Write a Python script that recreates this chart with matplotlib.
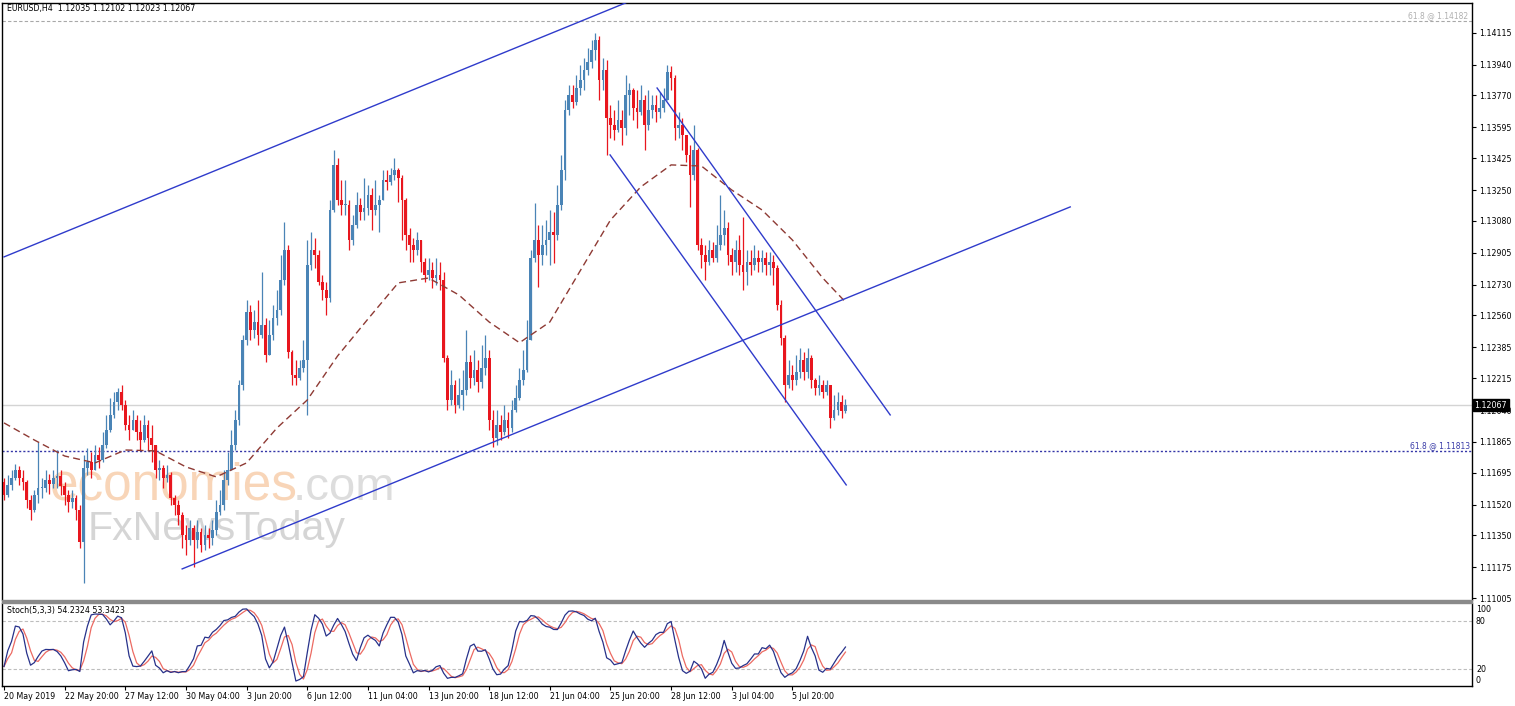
import numpy as np
import pandas as pd
import matplotlib
matplotlib.use("Agg")
import matplotlib.pyplot as plt
import matplotlib.transforms as mtransforms
from matplotlib.patches import Rectangle

# ---------------- data (EURUSD H4) ----------------
symbol_header = "EURUSD,H4  1.12035 1.12102 1.12023 1.12067"
stoch_header = "Stoch(5,3,3) 54.2324 53.3423"

first_open = 1.11644
close = [
    1.11573, 1.11628, 1.11666, 1.11710, 1.11666, 1.11644, 1.11545, 1.11490, 1.11573, 1.11611,
    1.11611, 1.11655, 1.11633, 1.11666, 1.11677, 1.11622, 1.11573, 1.11534, 1.11556, 1.11490,
    1.11314, 1.11721, 1.11754, 1.11710, 1.11793, 1.11765, 1.11848, 1.11930, 1.12013, 1.12084,
    1.12139, 1.12068, 1.11958, 1.11930, 1.11985, 1.11919, 1.11875, 1.11958, 1.11886, 1.11848,
    1.11710, 1.11721, 1.11666, 1.11683, 1.11556, 1.11518, 1.11463, 1.11353, 1.11325, 1.11391,
    1.11325, 1.11369, 1.11298, 1.11353, 1.11336, 1.11380, 1.11479, 1.11518, 1.11655, 1.11710,
    1.11848, 1.11985, 1.12178, 1.12425, 1.12579, 1.12480, 1.12524, 1.12453, 1.12508, 1.12343,
    1.12453, 1.12546, 1.12590, 1.12755, 1.12920, 1.12359, 1.12233, 1.12216, 1.12271, 1.12315,
    1.12838, 1.12920, 1.12893, 1.12744, 1.12700, 1.12656, 1.13140, 1.13388, 1.13195, 1.13168,
    1.13168, 1.12975, 1.13058, 1.13168, 1.13129, 1.13151, 1.13223, 1.13140, 1.13168, 1.13195,
    1.13305, 1.13294, 1.13333, 1.13360, 1.13316, 1.13195, 1.13003, 1.12948, 1.12920, 1.12975,
    1.12854, 1.12783, 1.12810, 1.12766, 1.12783, 1.12755, 1.12326, 1.12095, 1.12178, 1.12068,
    1.12123, 1.12150, 1.12304, 1.12216, 1.12260, 1.12194, 1.12271, 1.12326, 1.11985, 1.11886,
    1.11958, 1.11919, 1.11985, 1.11941, 1.12040, 1.12106, 1.12205, 1.12260, 1.12425, 1.12876,
    1.12975, 1.12893, 1.12948, 1.12975, 1.13019, 1.13003, 1.13168, 1.13360, 1.13690, 1.13773,
    1.13734, 1.13811, 1.13855, 1.13910, 1.13954, 1.14020, 1.14075, 1.13855, 1.13910, 1.13646,
    1.13608, 1.13580, 1.13635, 1.13591, 1.13773, 1.13800, 1.13701, 1.13679, 1.13745, 1.13608,
    1.13690, 1.13718, 1.13679, 1.13701, 1.13745, 1.13899, 1.13866, 1.13591, 1.13608, 1.13553,
    1.13443, 1.13333, 1.13470, 1.12948, 1.12893, 1.12854, 1.12920, 1.12876, 1.12948, 1.13003,
    1.13041, 1.12893, 1.12854, 1.12920, 1.12838, 1.12799, 1.12854, 1.12838, 1.12876, 1.12854,
    1.12876, 1.12838, 1.12854, 1.12821, 1.12618, 1.12436, 1.12178, 1.12233, 1.12205, 1.12249,
    1.12315, 1.12249, 1.12326, 1.12205, 1.12161, 1.12178, 1.12139, 1.12178, 1.11996, 1.12040,
    1.12084, 1.12035, 1.12067,
]
high = [
    1.11666, 1.11683, 1.11710, 1.11743, 1.11732, 1.11710, 1.11655, 1.11573, 1.11600, 1.11864,
    1.11666, 1.11710, 1.11688, 1.11710, 1.11820, 1.11710, 1.11644, 1.11600, 1.11600, 1.11573,
    1.11518, 1.11793, 1.11831, 1.11809, 1.11848, 1.11837, 1.11919, 1.12013, 1.12106, 1.12139,
    1.12161, 1.12178, 1.12095, 1.12013, 1.12040, 1.12013, 1.11985, 1.12013, 1.11985, 1.11958,
    1.11848, 1.11765, 1.11738, 1.11738, 1.11699, 1.11573, 1.11545, 1.11479, 1.11408, 1.11435,
    1.11408, 1.11435, 1.11391, 1.11408, 1.11391, 1.11435, 1.11545, 1.11600, 1.11710, 1.11809,
    1.11930, 1.12040, 1.12205, 1.12453, 1.12645, 1.12618, 1.12590, 1.12645, 1.12799, 1.12546,
    1.12535, 1.12618, 1.12700, 1.12893, 1.13074, 1.12948, 1.12370, 1.12315, 1.12315, 1.12425,
    1.12975, 1.13019, 1.12986, 1.12920, 1.12783, 1.12744, 1.13195, 1.13470, 1.13426, 1.13305,
    1.13305, 1.13195, 1.13113, 1.13239, 1.13206, 1.13316, 1.13278, 1.13261, 1.13305, 1.13223,
    1.13360, 1.13360, 1.13371, 1.13426, 1.13371, 1.13333, 1.13206, 1.13041, 1.12986, 1.13019,
    1.12920, 1.12876, 1.12876, 1.12854, 1.12876, 1.12854, 1.12799, 1.12343, 1.12260, 1.12205,
    1.12216, 1.12260, 1.12480, 1.12343, 1.12370, 1.12315, 1.12398, 1.12453, 1.12370, 1.12040,
    1.12040, 1.12013, 1.12068, 1.12029, 1.12095, 1.12178, 1.12271, 1.12370, 1.12535, 1.12920,
    1.13179, 1.13058, 1.13058, 1.13085, 1.13140, 1.13129, 1.13278, 1.13443, 1.13745, 1.13828,
    1.13828, 1.13883, 1.13938, 1.13976, 1.14031, 1.14075, 1.14113, 1.14097, 1.13976, 1.13965,
    1.13718, 1.13690, 1.13745, 1.13690, 1.13883, 1.13839, 1.13811, 1.13800, 1.13828, 1.13773,
    1.13800, 1.13773, 1.13773, 1.13789, 1.13811, 1.13938, 1.13932, 1.13883, 1.13679, 1.13646,
    1.13553, 1.13498, 1.13608, 1.13481, 1.12986, 1.12948, 1.12975, 1.12964, 1.13058, 1.13223,
    1.13140, 1.13074, 1.12931, 1.12975, 1.13003, 1.13102, 1.12920, 1.12920, 1.12948, 1.12920,
    1.12920, 1.12909, 1.12909, 1.12893, 1.12838, 1.12645, 1.12453, 1.12315, 1.12288, 1.12343,
    1.12381, 1.12359, 1.12381, 1.12343, 1.12216, 1.12233, 1.12205, 1.12205, 1.12178, 1.12123,
    1.12139, 1.12123, 1.12102,
]
low = [
    1.11545, 1.11562, 1.11600, 1.11655, 1.11628, 1.11600, 1.11501, 1.11435, 1.11479, 1.11529,
    1.11556, 1.11589, 1.11578, 1.11611, 1.11611, 1.11573, 1.11518, 1.11479, 1.11501, 1.11435,
    1.11281, 1.11089, 1.11683, 1.11666, 1.11710, 1.11721, 1.11754, 1.11831, 1.11919, 1.11996,
    1.12040, 1.12040, 1.11930, 1.11875, 1.11930, 1.11875, 1.11820, 1.11864, 1.11820, 1.11754,
    1.11666, 1.11655, 1.11611, 1.11644, 1.11518, 1.11463, 1.11408, 1.11281, 1.11243, 1.11298,
    1.11177, 1.11281, 1.11259, 1.11270, 1.11281, 1.11298, 1.11353, 1.11463, 1.11490, 1.11628,
    1.11710, 1.11820, 1.11958, 1.12150, 1.12398, 1.12425, 1.12436, 1.12398, 1.12436, 1.12304,
    1.12359, 1.12425, 1.12508, 1.12563, 1.12728, 1.12326, 1.12178, 1.12178, 1.12205, 1.12249,
    1.12013, 1.12810, 1.12821, 1.12728, 1.12645, 1.12563, 1.12634, 1.13129, 1.13168, 1.13113,
    1.13113, 1.12920, 1.12948, 1.13041, 1.13085, 1.13085, 1.13113, 1.13030, 1.13113, 1.13019,
    1.13239, 1.13250, 1.13278, 1.13305, 1.13184, 1.12975, 1.12920, 1.12854, 1.12854, 1.12893,
    1.12799, 1.12744, 1.12755, 1.12711, 1.12728, 1.12700, 1.12304, 1.12040, 1.12068, 1.12024,
    1.12051, 1.12040, 1.12123, 1.12161, 1.12178, 1.12139, 1.12161, 1.12233, 1.11930, 1.11837,
    1.11848, 1.11875, 1.11903, 1.11886, 1.11919, 1.12029, 1.12095, 1.12178, 1.12249, 1.12546,
    1.12854, 1.12717, 1.12838, 1.12893, 1.12838, 1.12849, 1.12975, 1.13140, 1.13305, 1.13663,
    1.13701, 1.13718, 1.13773, 1.13800, 1.13883, 1.13921, 1.13965, 1.13745, 1.13800, 1.13443,
    1.13536, 1.13525, 1.13569, 1.13498, 1.13553, 1.13663, 1.13635, 1.13591, 1.13663, 1.13470,
    1.13580, 1.13646, 1.13624, 1.13646, 1.13679, 1.13745, 1.13800, 1.13525, 1.13536, 1.13470,
    1.13404, 1.13157, 1.13305, 1.12920, 1.12821, 1.12755, 1.12838, 1.12854, 1.12854, 1.12920,
    1.12948, 1.12838, 1.12783, 1.12799, 1.12783, 1.12700, 1.12728, 1.12783, 1.12810, 1.12799,
    1.12799, 1.12783, 1.12783, 1.12728, 1.12590, 1.12398, 1.12084, 1.12161, 1.12150, 1.12178,
    1.12216, 1.12205, 1.12216, 1.12161, 1.12123, 1.12123, 1.12106, 1.12123, 1.11941, 1.11985,
    1.12013, 1.11996, 1.12023,
]

# moving average (dashed) read at sampled bars
ma_bar = [0, 8, 16, 24, 32, 40, 48, 56, 64, 72, 80, 88, 96, 104, 112, 120, 128,
          136, 144, 152, 160, 168, 176, 184, 192, 200, 208, 216, 222]
ma_val = [1.11969, 1.11875, 1.11787, 1.11749, 1.11820, 1.11815, 1.11727, 1.11672,
          1.11749, 1.11941, 1.12095, 1.12337, 1.12540, 1.12739, 1.12766, 1.12673,
          1.12524, 1.12410, 1.12524, 1.12805, 1.13085, 1.13267, 1.13388, 1.13382,
          1.13250, 1.13140, 1.12975, 1.12766, 1.12634]

# trend lines: (bar, price) anchors
trend_lines = [
    ((0, 1.12882), (164, 1.14279)),
    ((47, 1.11166), (281.3, 1.13157)),
    ((172.3, 1.13811), (233.8, 1.12013)),
    ((159.9, 1.13443), (222.2, 1.11628)),
]
fib_upper = 1.14182
fib_lower = 1.11813
last_price = 1.12067

price_ticks = [1.14115, 1.13940, 1.13770, 1.13595, 1.13425, 1.13250, 1.13080,
               1.12905, 1.12730, 1.12560, 1.12385, 1.12215, 1.12040, 1.11865,
               1.11695, 1.11520, 1.11350, 1.11175, 1.11005]
date_bar = [0, 16, 32, 48, 64, 80, 96, 112, 128, 144, 160, 176, 192, 208]
date_labels = ["20 May 2019", "22 May 20:00", "27 May 12:00", "30 May 04:00",
               "3 Jun 20:00", "6 Jun 12:00", "11 Jun 04:00", "13 Jun 20:00",
               "18 Jun 12:00", "21 Jun 04:00", "25 Jun 20:00", "28 Jun 12:00",
               "3 Jul 04:00", "5 Jul 20:00"]
stoch_levels = [80, 20]
stoch_axis_labels = [100, 80, 20, 0]

# ---------------- figure ----------------
W, H = 1515, 706
plt.rcParams['font.family'] = ['DejaVu Sans']
fig = plt.figure(figsize=(W / 100, H / 100), dpi=100)
fig.patch.set_facecolor('white')


def fx(px):
    return px / W


def fy(py):
    return 1 - py / H


ax = fig.add_axes([fx(2), fy(600), fx(1472) - fx(2), fy(3) - fy(600)])
ax2 = fig.add_axes([fx(2), fy(686), fx(1472) - fx(2), fy(603) - fy(686)])

XL = (-0.53, 387.3)
ax.set_xlim(*XL)
ax.set_ylim(1.10995, 1.142785)
ax2.set_xlim(*XL)
ax2.set_ylim(-1.25, 102.5)

FS = 5.7
bull, bear = '#4A84B6', '#E8161E'

# candles
c = np.array(close)
o = np.concatenate([[first_open], c[:-1]])
h = np.maximum(np.array(high), np.maximum(o, c))
l = np.minimum(np.array(low), np.minimum(o, c))
idx = np.arange(len(c))
cols = np.where(c >= o, bull, bear)
ax.vlines(idx, l, h, colors=cols, linewidth=0.9, zorder=4)
body_lo = np.minimum(o, c)
body_h = np.maximum(np.abs(c - o), 0.00003)
ax.bar(idx, body_h, bottom=body_lo, width=0.72, color=cols, linewidth=0, zorder=5)

# moving average
ax.plot(ma_bar, ma_val, color='#8E3A34', lw=1.0, dashes=(5, 3), zorder=6)

# trend lines
for (x0, y0), (x1, y1) in trend_lines:
    ax.plot([x0, x1], [y0, y1], color='#2F3BCB', lw=1.0, zorder=7)

# horizontal lines
ax.axhline(fib_upper, color='#A8A8A8', lw=0.8, dashes=(3, 2), zorder=2)
ax.axhline(fib_lower, color='#3436A8', lw=1.0, dashes=(1.5, 1.5), zorder=2)
ax.axhline(last_price, color='#D4D4D4', lw=1.0, zorder=1)

# watermark
fig.text(fx(50), fy(500), "economies", fontsize=37, family='Liberation Sans',
         color='#F6C49A', alpha=0.7, va='baseline', zorder=0.5)
fig.text(fx(293), fy(500), ".com", fontsize=34, family='Liberation Sans',
         color='#CFCFCF', alpha=0.7, va='baseline', zorder=0.5)
fig.text(fx(88), fy(540), "FxNewsToday", fontsize=29.5, family='Liberation Sans',
         color='#C4C4C4', alpha=0.7, va='baseline', zorder=0.5)
ax.set_facecolor('none')
ax.set_zorder(2)
ax2.set_zorder(2)

# price axis
ax.yaxis.tick_right()
ax.set_yticks(price_ticks)
ax.set_yticklabels([f"{v:.5f}" for v in price_ticks])
ax.tick_params(axis='y', direction='out', length=3, width=0.8, pad=2,
               labelsize=FS, colors='black')
ax.set_xticks([])
for s in ['left', 'top', 'right']:
    ax.spines[s].set_color('black')
    ax.spines[s].set_linewidth(1.0)
ax.spines['bottom'].set_visible(False)

tr = mtransforms.blended_transform_factory(fig.transFigure, ax.transData)
fig.text(fx(1470), fib_lower + 0.00004, f"61.8 @ {fib_lower:.5f}", transform=tr,
         ha='right', va='bottom', fontsize=5.5, color='#3A3CA8')
fig.text(fx(1468), fib_upper + 0.00004, f"61.8 @ {fib_upper:.5f}", transform=tr,
         ha='right', va='bottom', fontsize=5.5, color='#B0B0B0')
fig.text(fx(1474.5), last_price, f"{last_price:.5f}", transform=tr, ha='left',
         va='center', fontsize=FS, color='white', zorder=10,
         bbox=dict(boxstyle='square,pad=0.2', fc='black', ec='black'))

# header texts
fig.text(fx(7), fy(9), symbol_header, fontsize=FS, va='center', ha='left')

# separator between panels
fig.add_artist(Rectangle((fx(2), fy(603)), fx(1472) - fx(2), fy(600) - fy(603),
                         transform=fig.transFigure, color='#8A8A8A', zorder=3))

# stochastic (5,3,3)
hs, ls, cs = pd.Series(h), pd.Series(l), pd.Series(c)
hh = hs.rolling(5, min_periods=1).max()
ll = ls.rolling(5, min_periods=1).min()
num = (cs - ll).rolling(3, min_periods=1).sum()
den = (hh - ll).rolling(3, min_periods=1).sum()
k = 100 * num / den
d = k.rolling(3, min_periods=1).mean()
for lv in stoch_levels:
    ax2.axhline(lv, color='#BDBDBD', lw=0.8, dashes=(3, 2))
ax2.plot(idx, d, color='#EC6A62', lw=0.9)
ax2.plot(idx, k, color='#27318A', lw=0.9)
fig.text(fx(7), fy(610), stoch_header, fontsize=FS, va='center', ha='left')

tr2 = mtransforms.blended_transform_factory(fig.transFigure, ax2.transData)
for v in stoch_axis_labels:
    va = 'top' if v == 100 else ('bottom' if v == 0 else 'center')
    fig.text(fx(1476), v, str(v), transform=tr2, ha='left', va=va, fontsize=FS)

ax2.set_yticks([])
ax2.set_xticks(date_bar)
ax2.set_xticklabels(date_labels)
ax2.tick_params(axis='x', direction='out', length=3, width=0.8, pad=1.5,
                labelsize=FS)
for lab in ax2.get_xticklabels():
    lab.set_ha('left')
for s in ['left', 'bottom', 'right']:
    ax2.spines[s].set_color('black')
    ax2.spines[s].set_linewidth(1.0)
ax2.spines['top'].set_visible(False)

fig.savefig("out.png", dpi=100, facecolor='white')
